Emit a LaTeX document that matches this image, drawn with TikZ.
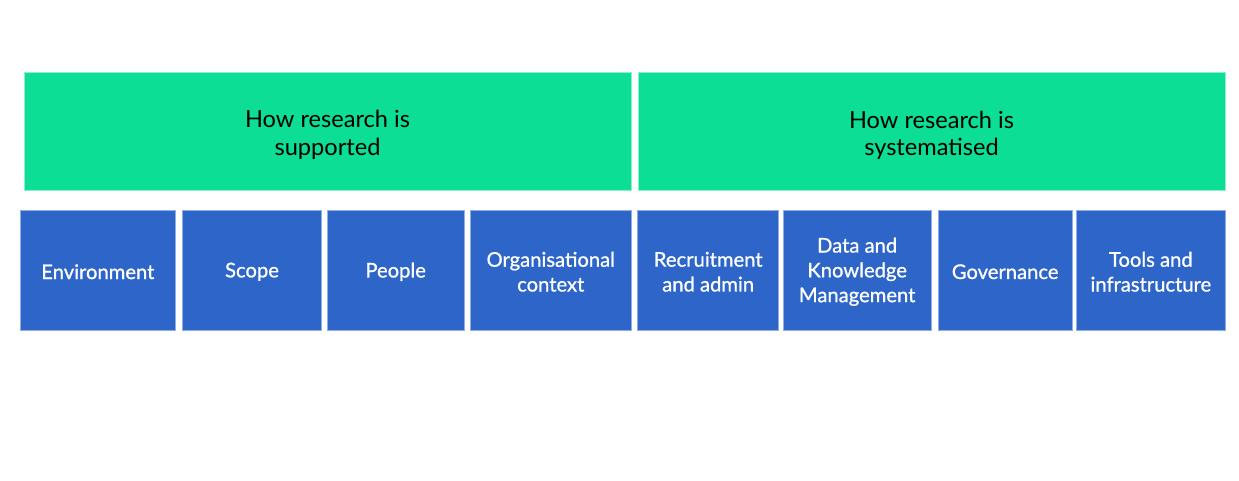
\documentclass[tikz,border=0pt]{standalone}
\usepackage{fontspec}
\setmainfont{Lato}
\newfontfamily\medfont{Lato}[BoldFont=Lato, BoldFeatures={FakeBold=0.9}]
\definecolor{grn}{HTML}{0DDE96}
\definecolor{grnedge}{HTML}{8AF0CB}
\definecolor{blu}{HTML}{2D66C8}
\definecolor{bluedge}{HTML}{8FAEE6}
\begin{document}
\begin{tikzpicture}[x=1pt,y=-1pt,
  greenbox/.style={draw=grnedge, fill=grn, line width=0.8pt, inner sep=0pt, outer sep=0pt,
    anchor=north west, minimum height=118pt},
  greentext/.style={align=center, text=black, inner sep=0pt, yshift=-3.5pt,
    font=\fontsize{23.6}{27.5}\selectfont},
  bluebox/.style={draw=bluedge, fill=blu, line width=0.8pt, inner sep=0pt, outer sep=0pt,
    anchor=north west, minimum height=119.5pt},
  bluetext/.style={align=center, text=white, inner sep=0pt, yshift=-1.5pt,
    font=\medfont\bfseries\fontsize{20.2}{24.8}\selectfont}]
\useasboundingbox (0,0) rectangle (1239,480);
\fill[white] (0,0) rectangle (1239,480);
% green headers
\node[greenbox, minimum width=607pt] (hs) at (24,72.5) {};
\node[greenbox, minimum width=587pt] (hy) at (638,72.8) {};
\node[greentext] (hsT) at (hs.center) {How research is\\supported};
\node[greentext] (hyT) at (hy.center) {How research is\\systematised};
% blue boxes
\node[bluebox, minimum width=155.7pt] (env) at (20,210.5) {};
\node[bluebox, minimum width=139.4pt] (scope) at (182.3,210.5) {};
\node[bluebox, minimum width=136.7pt] (people) at (327.3,210.5) {};
\node[bluebox, minimum width=161.5pt] (org) at (470,210.5) {};
\node[bluebox, minimum width=141pt] (rec) at (637.7,210.5) {};
\node[bluebox, minimum width=148.3pt] (data) at (783,210.5) {};
\node[bluebox, minimum width=133.7pt] (gov) at (938.3,210.5) {};
\node[bluebox, minimum width=148.3pt] (tools) at (1076.7,210.5) {};
\node[bluetext] (envT) at (env.center) {Environment};
\node[bluetext] (scopeT) at (scope.center) {Scope};
\node[bluetext] (peopleT) at (people.center) {People};
\node[bluetext] (orgT) at (org.center) {Organisational\\context};
\node[bluetext] (recT) at (rec.center) {Recruitment\\and admin};
\node[bluetext] (dataT) at (data.center) {Data and\\Knowledge\\Management};
\node[bluetext] (govT) at (gov.center) {Governance};
\node[bluetext] (toolsT) at (tools.center) {Tools and\\infrastructure};
\end{tikzpicture}
\end{document}
